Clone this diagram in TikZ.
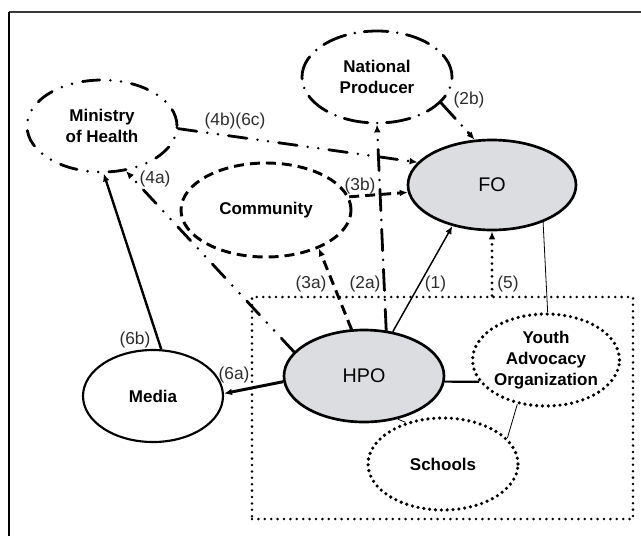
\documentclass[tikz,border=0pt]{standalone}
\usepackage{fontspec}
\setmainfont{Liberation Sans}
\usetikzlibrary{shapes.geometric,arrows.meta}
\definecolor{fillgray}{RGB}{220,221,224}
\definecolor{labelgray}{RGB}{45,45,45}
\begin{document}
\begin{tikzpicture}[x=0.75pt,y=-0.75pt,
  ell/.style={ellipse,inner sep=0pt,align=center,text=black,
    font=\fontsize{12.75}{15.5}\selectfont\bfseries},
  mohst/.style={line width=2.1pt,line cap=round,
    dash pattern=on 13pt off 8pt on 0pt off 8pt on 0pt off 8pt},
  npst/.style={line width=2.1pt,line cap=round,
    dash pattern=on 18pt off 7pt on 0pt off 7pt},
  comst/.style={line width=2.2pt,dash pattern=on 7.5pt off 4.5pt},
  dotst/.style={line width=2.7pt,line cap=round,dash pattern=on 0pt off 4.4pt},
  boxst/.style={line width=2.1pt,line cap=round,dash pattern=on 0pt off 4.8pt},
  mainell/.style={ell,draw,line width=2pt,fill=fillgray,
    font=\fontsize{14.8}{17}\selectfont},
  arr/.style={-{Latex[length=6pt,width=5pt]}},
  lbl/.style={inner sep=0pt,text=labelgray,font=\fontsize{13}{15}\selectfont},
  dashconn/.style={line width=2.1pt,line cap=round,
    dash pattern=on 14pt off 8pt on 0pt off 8pt on 0pt off 8pt},
  dashdotconn/.style={line width=2.1pt,line cap=round,
    dash pattern=on 16pt off 7pt on 0pt off 7pt}
]
\useasboundingbox (0,0) rectangle (641,536);
% frame
\draw[line width=1.6pt,gray!45!black] (9,12) -- (641,12);
\draw[line width=1.6pt,black] (9,12) -- (9,536);

% dotted box
\node[boxst,draw,minimum width=381*0.75pt,minimum height=222*0.75pt,inner sep=0pt] (box) at (442.5,408) {};

% nodes
\node[ell,mohst,draw,fill=white,minimum width=150*0.75pt,minimum height=92*0.75pt] (moh) at (102,126) {Ministry\\of Health};
\node[ell,npst,draw,fill=white,minimum width=150*0.75pt,minimum height=92*0.75pt] (np) at (377,77) {National\\Producer};
\node[ell,comst,draw,fill=white,minimum width=170*0.75pt,minimum height=94*0.75pt] (com) at (266,210) {Community};
\node[mainell,minimum width=168*0.75pt,minimum height=90*0.75pt] (fo) at (492,185) {FO};
\node[mainell,minimum width=160*0.75pt,minimum height=92*0.75pt] (hpo) at (364,376) {HPO};
\node[ell,draw,line width=1.6pt,fill=white,minimum width=140*0.75pt,minimum height=92*0.75pt] (media) at (153,396) {Media};
\node[ell,dotst,draw,fill=white,minimum width=142*0.75pt,minimum height=92*0.75pt] (yao) at (546,360) {Youth\\Advocacy\\Organization};
\node[ell,dotst,draw,fill=white,minimum width=150*0.75pt,minimum height=92*0.75pt] (sch) at (443,464) {Schools};

\coordinate (b5) at (fo.south |- box.north);

% connectors
\draw[arr,line width=1.1pt] (hpo.57) -- (fo.226);
\draw[arr,dashdotconn] (hpo.64) -- (np.270);
\draw[arr,dashdotconn] (np.338) -- (fo.111);
\draw[arr,comst] (hpo.105) -- (com.324);
\draw[arr,comst] (com.9) -- (fo.185);
\draw[arr,dashconn] (hpo.161) -- (moh.298);
\draw[arr,dashconn] (moh.358) -- (fo.163);
\draw[arr,boxst,line width=2.3pt] (b5) -- (fo.270);
\draw[arr,line width=2.2pt] (hpo.184) -- (media.2);
\draw[arr,line width=1.8pt] (media.80) -- (moh.272);
\draw[line width=0.6pt] (fo.324) -- (yao.88);
\draw[line width=1.6pt] (hpo.356) -- (yao.198);
\draw[line width=0.6pt] (yao.237) -- (sch.22);
\draw[line width=0.6pt] (hpo.308) -- (sch.132);

% labels
\node[lbl] (l1) at (435.5,284) {(1)};
\node[lbl] (l2a) at (365,284) {(2a)};
\node[lbl] (l2b) at (469,100) {(2b)};
\node[lbl] (l3a) at (311,284) {(3a)};
\node[lbl] (l3b) at (360,186) {(3b)};
\node[lbl] (l4a) at (155,179.5) {(4a)};
\node[lbl] (l4b) at (235,121) {(4b)(6c)};
\node[lbl] (l5) at (508,284) {(5)};
\node[lbl] (l6a) at (234,375) {(6a)};
\node[lbl] (l6b) at (135,340) {(6b)};
\end{tikzpicture}
\end{document}
